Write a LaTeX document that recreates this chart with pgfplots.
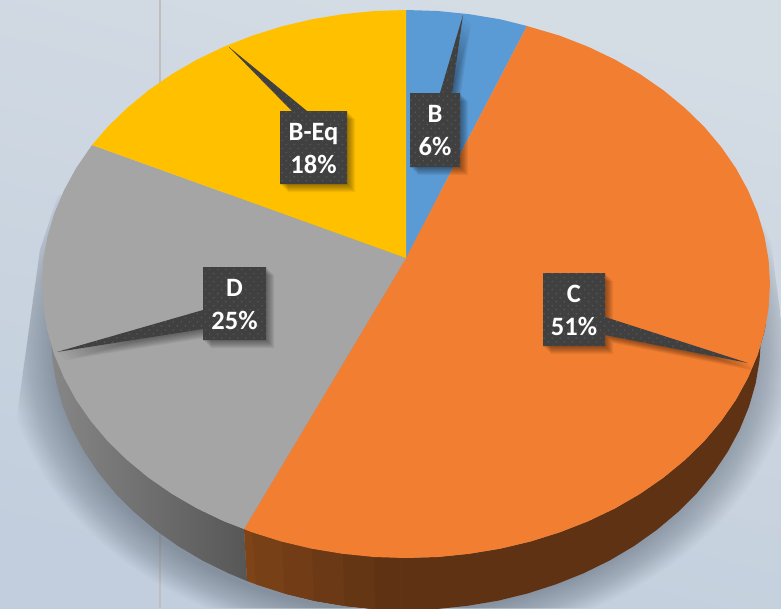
\documentclass[border=0pt]{standalone}
\usepackage{fontspec}
\setmainfont{Carlito}
\usepackage{pgfplots}
\usepackage{pgfplotstable}
\pgfplotsset{compat=1.18}
\usetikzlibrary{patterns.meta}
\definecolor{bgtop}{HTML}{D4DCE4}
\definecolor{bgbot}{HTML}{C2CEDD}
\definecolor{shad}{HTML}{5C6776}
\definecolor{cblue}{HTML}{5B9BD5}
\definecolor{corange}{HTML}{F27E31}
\definecolor{cgray}{HTML}{A5A5A5}
\definecolor{cyellow}{HTML}{FFC000}
\definecolor{box}{HTML}{404040}
\definecolor{boxdot}{HTML}{585858}
\definecolor{brownA}{RGB}{126,68,24}
\definecolor{brownB}{RGB}{120,64,23}
\definecolor{brownC}{RGB}{114,61,22}
\definecolor{brownD}{RGB}{107,57,21}
\definecolor{brownE}{RGB}{101,54,20}
\definecolor{brownF}{RGB}{95,50,19}
\pgfplotstableread{
x y
603 273
543 273
543 346
605 346
605 335
748 363
605 317
605 273
543 273
}\calloutC
\pgfplotstableread{
x y
203 267
266 267
266 340
203 340
203 329
57 352
203 310
203 267
}\calloutD
\pgfplotstableread{
x y
280 111
292 111
229 47
307 111
347 111
347 184
280 184
280 111
}\calloutBEq
\pgfplotstableread{
x y
410 93
440 93
463 15
452 93
460 93
460 167
410 167
410 93
}\calloutB
\newcommand{\shadowlayer}[2]{%
  \addplot[draw=none,fill=black,opacity=.055,xshift=#2pt,yshift=-#2pt] table {#1};
}
\newcommand{\callout}[1]{%
  \shadowlayer{#1}{8}
  \shadowlayer{#1}{7}
  \shadowlayer{#1}{6}
  \shadowlayer{#1}{5}
  \shadowlayer{#1}{4}
  \shadowlayer{#1}{3}
  \shadowlayer{#1}{2}
  \shadowlayer{#1}{1}
  \addplot[draw=none,fill=box] table {#1};
  \addplot[draw=none,pattern={Dots[radius=.9pt,distance=5.7pt,angle=45]},pattern color=boxdot] table {#1};
}
\begin{document}
\begin{tikzpicture}[x=1pt,y=1pt]
% background
\shade[top color=bgtop,bottom color=bgbot,shading angle=-15] (0,0) rectangle (781,608);
\fill[color=black!25] (159,608) rectangle (161,0);
% soft shadow of the pie (y here is 608 minus the picture's y)
\begin{scope}
\clip (58,413) -- (40,358) -- (15,178) -- (0,120) -- (0,0) -- (781,0) -- (781,288) -- (770,373) -- (760,413) -- cycle;
\foreach \i in {0,...,24}{
  \pgfmathsetmacro{\a}{395-2*\i}
  \pgfmathsetmacro{\b}{302-1.4*\i}
  \fill[shad,fill opacity=.027] (400,263) ellipse [x radius=\a pt,y radius=\b pt];
}
\end{scope}
\begin{axis}[at={(0,0)},anchor=south west,scale only axis,width=781pt,height=608pt,
  xmin=0,xmax=781,ymin=0,ymax=608,y dir=reverse,hide axis,no markers]
% side of the pie
\addplot[draw=none,left color=black!47,right color=black!66] coordinates {
(244,529)(224,521.3)(197.2,508.5)(172,493.9)(148.6,477.7)(127.2,460.1)(107.8,441.2)(90.8,421)(76.1,399.8)(64,377.7)(54.4,354.9)(47.5,331.6)
(51,336)(52.4,359.9)(56.4,383.6)(63.1,406.9)(72.4,429.7)(84.3,451.8)(98.6,473)(115.2,493.2)(134.1,512.1)(155,529.7)(177.8,545.9)(202.4,560.5)(228.5,573.3)(247,581)};
\addplot[draw=none,fill=brownF] coordinates {
(400,558)(437.7,557)(469.2,553.8)(500.2,548.7)(530.5,541.5)(559.8,532.3)(588,521.3)(614.8,508.5)(640,493.9)(663.4,477.7)(684.8,460.1)(704.2,441.2)(721.2,421)(735.9,399.8)(748,377.7)(757.6,354.9)(764.5,331.6)(766,323)
(761,336)(759.6,359.9)(755.6,383.6)(748.9,406.9)(739.6,429.7)(727.7,451.8)(713.4,473)(696.8,493.2)(677.9,512.1)(657,529.7)(634.2,545.9)(609.6,560.5)(583.5,573.3)(556,584.3)(527.4,593.5)(497.9,600.7)(467.6,605.8)(437,609)(406,610)(400,610)};
\addplot[draw=none,fill=brownA] coordinates {
(244,529)(252.2,532.3)(281.5,541.5)(311.8,548.7)(342.8,553.8)(374.3,557)(401,558)
(401,610)(375,609)(344.4,605.8)(314.1,600.7)(284.6,593.5)(256,584.3)(247,581)};
\addplot[draw=none,fill=brownB] coordinates {
(252.2,532.3)(281.5,541.5)(311.8,548.7)(342.8,553.8)(374.3,557)(401,558)
(401,610)(375,609)(344.4,605.8)(314.1,600.7)(284.6,593.5)(256,584.3)};
\addplot[draw=none,fill=brownC] coordinates {
(281.5,541.5)(311.8,548.7)(342.8,553.8)(374.3,557)(401,558)
(401,610)(375,609)(344.4,605.8)(314.1,600.7)(284.6,593.5)};
\addplot[draw=none,fill=brownD] coordinates {
(311.8,548.7)(342.8,553.8)(374.3,557)(401,558)
(401,610)(375,609)(344.4,605.8)(314.1,600.7)};
\addplot[draw=none,fill=brownE] coordinates {
(342.8,553.8)(374.3,557)(401,558)
(401,610)(375,609)(344.4,605.8)};
\addplot[draw=none,fill=brownF] coordinates {
(374.3,557)(401,558)(401,610)(375,609)};
% top face
\addplot[draw=none,fill=cblue] coordinates {
(406,258)(406,10)(437.7,11)(469.2,14.2)(500.2,19.3)(527,26)};
\addplot[draw=none,fill=corange] coordinates {
(406,258)(527,26)(559.8,35.7)(588,46.7)(614.8,59.5)(640,74.1)(663.4,90.3)(684.8,107.9)(704.2,126.8)(721.2,147)(735.9,168.2)(748,190.3)(757.6,213.1)(764.5,236.4)(768.6,260.1)(770,284)(768.6,307.9)(764.5,331.6)(757.6,354.9)(748,377.7)(735.9,399.8)(721.2,421)(704.2,441.2)(684.8,460.1)(663.4,477.7)(640,493.9)(614.8,508.5)(588,521.3)(559.8,532.3)(530.5,541.5)(500.2,548.7)(469.2,553.8)(437.7,557)(406,558)(374.3,557)(342.8,553.8)(311.8,548.7)(281.5,541.5)(252.2,532.3)(244,529)};
\addplot[draw=none,fill=cgray] coordinates {
(406,258)(244,529)(224,521.3)(197.2,508.5)(172,493.9)(148.6,477.7)(127.2,460.1)(107.8,441.2)(90.8,421)(76.1,399.8)(64,377.7)(54.4,354.9)(47.5,331.6)(43.4,307.9)(42,284)(43.4,260.1)(47.5,236.4)(54.4,213.1)(64,190.3)(76.1,168.2)(92,145)};
\addplot[draw=none,fill=cyellow] coordinates {
(406,258)(92,145)(107.8,126.8)(127.2,107.9)(148.6,90.3)(172,74.1)(197.2,59.5)(224,46.7)(252.2,35.7)(281.5,26.5)(311.8,19.3)(342.8,14.2)(374.3,11)(406,10)};
% call-outs
\callout{\calloutB}
\callout{\calloutC}
\callout{\calloutD}
\callout{\calloutBEq}
\node[text=white,align=center,font=\fontsize{26.5}{33}\selectfont\bfseries] at (axis cs:313.5,148.5) {B-Eq\\18\%};
\node[text=white,align=center,font=\fontsize{26.5}{33}\selectfont\bfseries] at (axis cs:435,131) {B\\6\%};
\node[text=white,align=center,font=\fontsize{26.5}{33}\selectfont\bfseries] at (axis cs:574,310.5) {C\\51\%};
\node[text=white,align=center,font=\fontsize{26.5}{33}\selectfont\bfseries] at (axis cs:234.5,304.5) {D\\25\%};
\end{axis}
\pgfresetboundingbox
\path[use as bounding box] (0,0) rectangle (781,608);
\end{tikzpicture}
\end{document}
